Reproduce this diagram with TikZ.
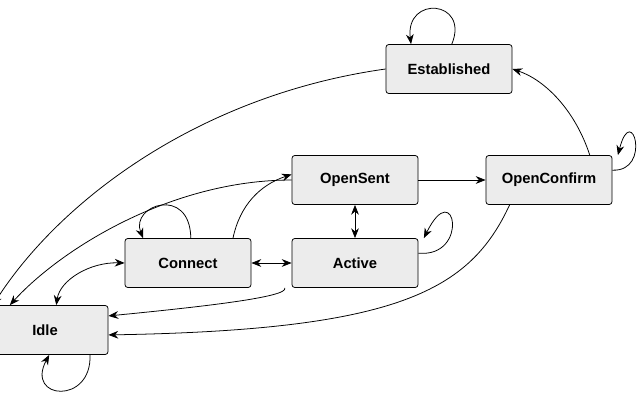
\documentclass[tikz,border=0pt]{standalone}
\usepackage{fontspec}
\setmainfont{Liberation Sans}
\usetikzlibrary{arrows.meta}
\begin{document}
\begin{tikzpicture}[x=0.025cm,y=-0.025cm,
    state/.style={draw, fill=gray!15, rounded corners=2pt, minimum width=3.15cm,
      minimum height=1.225cm, font=\fontsize{10.5}{12}\selectfont\bfseries},
    every path/.style={line width=0.55pt, >={Stealth[length=7pt,width=5.5pt]}}]
  \useasboundingbox (0,0) rectangle (640,400);
  % States
  \node[state] (est) at (449,69) {Established};
  \node[state] (sent) at (355,180) {OpenSent};
  \node[state] (conf) at (549,180) {OpenConfirm};
  \node[state] (conn) at (188,263) {Connect};
  \node[state] (act) at (355,263) {Active};
  \node[state] (idle) at (45,330) {Idle};

  % Self loops
  \draw[->] ([xshift=2]est.north) .. controls (470,0) and (405,-5) .. ([xshift=-27]est.north);
  \draw[->] ([yshift=7]conf.east) .. controls (652,172) and (632,100) .. ([xshift=49]conf.north);
  \draw[->] ([yshift=7]act.east) .. controls (470,258) and (455,175) .. ([xshift=49]act.north);
  \draw[->] ([xshift=2]conn.north) .. controls (190,185) and (130,205) .. ([xshift=-32]conn.north);
  \draw[->] ([xshift=32]idle.south) .. controls (92,405) and (25,400) .. ([xshift=3]idle.south);

  % Transitions
  \draw[->] (est.west) .. controls (200,95) and (60,200) .. ([xshift=-37]idle.north);
  \draw[->] (sent.west) .. controls (170,180) and (60,250) .. ([xshift=-25]idle.north);
  \draw[->] ([xshift=29]conf.north) .. controls (575,110) and (545,80) .. (est.east);
  \draw[->] (sent) -- (conf);
  \draw[<->] (sent) -- (act);
  \draw[<->] (conn) -- (act);
  \draw[->] ([xshift=32]conn.north) .. controls (240,205) and (260,185) .. ([yshift=4]sent.west);
  \draw[<->] ([xshift=8]idle.north) .. controls (60,280) and (90,262) .. (conn.west);
  \draw[->] ([xshift=-50]act.south) .. controls (290,297) and (200,307) .. ([yshift=10]idle.east);
  \draw[->] ([xshift=-28]conf.south) .. controls (470,290) and (400,330) .. ([yshift=-3.5]idle.east);
\end{tikzpicture}
\end{document}
